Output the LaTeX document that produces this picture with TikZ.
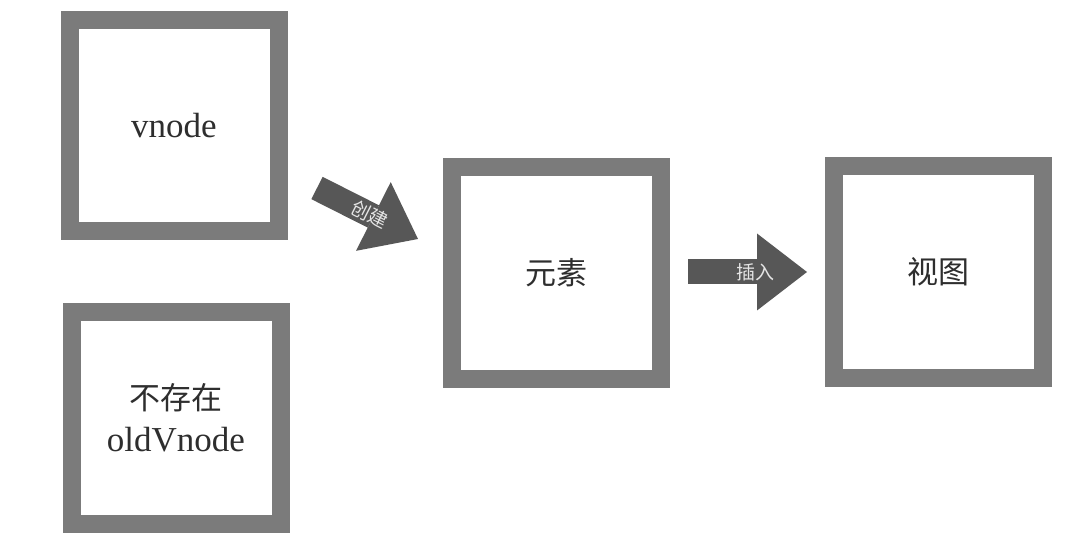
\documentclass[tikz,border=0pt]{standalone}
\usepackage{fontspec}
\setmainfont{Liberation Serif}
\newfontfamily\cjk{Noto Sans CJK SC}
\usetikzlibrary{arrows.meta}
\definecolor{rim}{HTML}{7B7B7B}
\definecolor{pointer}{HTML}{575757}
\definecolor{ink}{HTML}{2E2E2E}
\begin{document}
\begin{tikzpicture}
	[x=1pt,y=-1pt,
	box/.style={rectangle,draw=rim,line width=18pt,fill=white,minimum width=209pt,minimum height=211pt,text=ink,align=center,inner sep=0pt,font=\fontsize{35}{42}\selectfont},
	han/.style={font=\cjk\fontsize{31}{42}\selectfont},
	pointer/.style={draw=pointer,line width=25pt,-{Triangle[length=50pt,width=77pt,line width=0pt]}},
	tag/.style={text=white!90!black,inner sep=0pt,font=\cjk\fontsize{19}{20}\selectfont}
	]
	\useasboundingbox (0,0) rectangle (1088,548);
	\node[box] (vnode) at (174,126){vnode};
	\node[box] (oldvnode) at (176,418){{\cjk\fontsize{31}{42}\selectfont 不存在}\\oldVnode};
	\node[box,han] (elem) at (556,273){元素};
	\node[box,han] (view) at (938,272){视图};

	\coordinate (mkTail) at (317,188);
	\coordinate (mkHead) at (418,239);
	\coordinate (inTail) at (688,272);
	\coordinate (inHead) at (807,272);
	\draw[pointer] (mkTail) -- node[tag,sloped,pos=.52] {创建} (mkHead);
	\draw[pointer] (inTail) -- node[tag,pos=.57] {插入} (inHead);
\end{tikzpicture}
\end{document}
